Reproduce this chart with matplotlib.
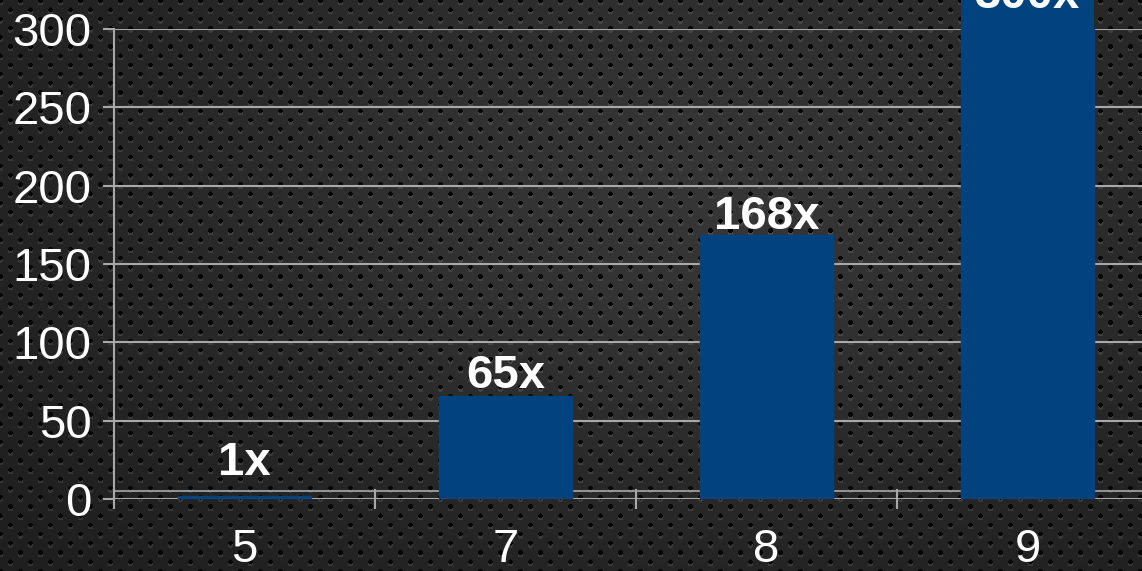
import numpy as np
import matplotlib
matplotlib.use("Agg")
import matplotlib.pyplot as plt

# ---- data ----
categories = ["5", "7", "8", "9"]
values = [1, 65, 168, 300]
labels = ["1x", "65x", "168x", "300x"]
yticks = [0, 50, 100, 150, 200, 250, 300]

# ---- style ----
W, H, DPI = 1142, 571, 100
bar_color = "#01427f"
grid_color = "#a8a8a8"
label_offsets_px = [22, 9, 7, 21]
FS = 34

plt.rcParams["font.family"] = ["Liberation Sans", "DejaVu Sans"]

fig = plt.figure(figsize=(W / DPI, H / DPI), dpi=DPI)

# background texture (perforated metal look)
yy, xx = np.mgrid[0:H, 0:W].astype(float)
u = xx / W
v = yy / H
base = 0.115 + 0.095 * np.exp(-(((u - 0.6) ** 2) / 0.25 + ((v - 0.35) ** 2) / 0.35))
dy, dx = 9.2, 20.0
row = np.round(yy / dy)
xo = np.where(row % 2 == 0, 0.0, dx / 2)
cx = np.round((xx - xo) / dx) * dx + xo
cy = row * dy
d = np.hypot(xx - cx, yy - cy)
dh = np.hypot(xx - cx, yy - cy - 2.4)
img = base.copy()
img = np.where((dh < 2.6) & (d >= 2.2), base + 0.08, img)
img = np.where(d < 2.3, 0.025, img)
bg_ax = fig.add_axes([0, 0, 1, 1], zorder=-10)
bg_ax.imshow(np.dstack([img, img, img]).clip(0, 1), aspect="auto",
             interpolation="nearest", extent=[0, W, H, 0])
bg_ax.set_axis_off()

# main axes (extends beyond right edge like the reference)
left_px, right_px, top_px, bottom_px = 114, 1158, 29, 499
ax = fig.add_axes([left_px / W, 1 - bottom_px / H,
                   (right_px - left_px) / W, (bottom_px - top_px) / H])
ax.set_facecolor("none")

x = np.arange(len(categories))
ax.set_xlim(-0.5, len(categories) - 0.5)
ax.set_ylim(0, 300)

# gridlines
for t in yticks:
    ax.axhline(t, color=grid_color, lw=1.5, zorder=1)
ax.axhline(5, color=grid_color, lw=1.2, zorder=1)

bars = ax.bar(x, values, width=0.5, color=bar_color, zorder=3,
              edgecolor=bar_color, linewidth=2.5)

for xi, val, lab, off in zip(x, values, labels, label_offsets_px):
    kw = {}
    if val == max(values):
        kw["bbox"] = dict(boxstyle="square,pad=0.3", fc=bar_color, ec="none")
    ax.annotate(lab, (xi, val), xytext=(0, off * 72 / DPI), textcoords="offset points",
                ha="center", va="baseline", fontsize=FS, fontweight="bold",
                color="white", zorder=5, annotation_clip=False, **kw)

# spines and ticks
for s in ["top", "right", "bottom"]:
    ax.spines[s].set_visible(False)
ax.spines["left"].set_color(grid_color)
ax.spines["left"].set_linewidth(1.5)

ax.set_yticks(yticks)
ax.set_yticklabels([str(t) for t in yticks])
ax.tick_params(axis="y", direction="out", length=8, width=1.5, color=grid_color,
               labelsize=FS, labelcolor="white", pad=8)

ax.set_xticks(x)
ax.set_xticklabels(categories)
ax.set_xticks(np.arange(len(categories) + 1) - 0.5, minor=True)
ax.tick_params(axis="x", which="major", length=0, labelsize=FS, labelcolor="white", pad=21)
ax.tick_params(axis="x", which="minor", direction="inout", length=14, width=1.5,
               color=grid_color)

fig.savefig("out.png", dpi=DPI)
